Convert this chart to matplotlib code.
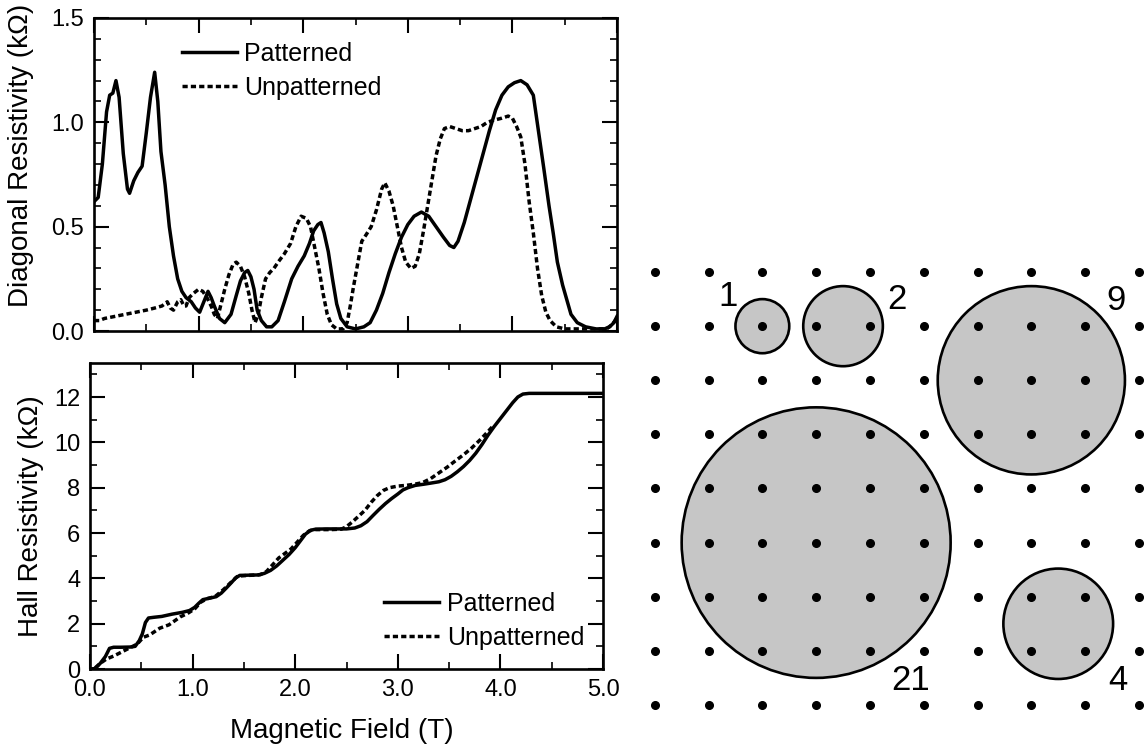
import matplotlib
matplotlib.use("Agg")
import matplotlib.pyplot as plt
from matplotlib.patches import Circle
from matplotlib.ticker import MultipleLocator
import numpy as np

plt.rcParams['font.family'] = ['Liberation Sans', 'DejaVu Sans']

# ---- diagonal resistivity (kOhm) vs field (T) ----
diag_pat_B = [0.00, 0.04, 0.08, 0.12, 0.15, 0.18, 0.21, 0.24, 0.28, 0.32, 0.34, 0.38, 0.42, 0.46,
              0.50, 0.54, 0.58, 0.61, 0.64, 0.68, 0.72, 0.76, 0.80, 0.84, 0.88, 0.93, 0.97, 1.01,
              1.05, 1.09, 1.12, 1.15, 1.20, 1.25, 1.31, 1.36, 1.40, 1.44, 1.47, 1.50, 1.53, 1.56,
              1.60, 1.65, 1.70, 1.76, 1.82, 1.89, 1.95, 2.01, 2.06, 2.10, 2.14, 2.17, 2.20, 2.24,
              2.28, 2.32, 2.36, 2.42, 2.50, 2.58, 2.64, 2.70, 2.76, 2.82, 2.88, 2.94, 3.00, 3.06,
              3.13, 3.20, 3.27, 3.34, 3.40, 3.44, 3.48, 3.54, 3.60, 3.66, 3.72, 3.78, 3.84, 3.90,
              3.96, 4.02, 4.08, 4.14, 4.20, 4.26, 4.30, 4.35, 4.39, 4.43, 4.48, 4.52, 4.56, 4.62,
              4.70, 4.80, 4.88, 4.93, 4.97, 5.00]
diag_pat = [0.62, 0.64, 0.80, 1.05, 1.13, 1.14, 1.20, 1.12, 0.85, 0.68, 0.66, 0.72, 0.76, 0.79,
            0.95, 1.12, 1.24, 1.10, 0.86, 0.70, 0.50, 0.36, 0.25, 0.19, 0.16, 0.14, 0.11, 0.09,
            0.14, 0.19, 0.16, 0.12, 0.06, 0.04, 0.08, 0.17, 0.24, 0.28, 0.29, 0.26, 0.20, 0.10,
            0.05, 0.02, 0.02, 0.05, 0.14, 0.25, 0.31, 0.36, 0.42, 0.48, 0.51, 0.52, 0.47, 0.38,
            0.25, 0.13, 0.06, 0.02, 0.01, 0.02, 0.04, 0.10, 0.18, 0.28, 0.37, 0.45, 0.51, 0.55,
            0.57, 0.55, 0.50, 0.45, 0.41, 0.40, 0.43, 0.52, 0.63, 0.74, 0.85, 0.96, 1.06, 1.13,
            1.17, 1.19, 1.20, 1.18, 1.13, 0.92, 0.78, 0.60, 0.47, 0.33, 0.22, 0.15, 0.08, 0.04,
            0.02, 0.01, 0.01, 0.02, 0.04, 0.07]

diag_unp_B = [0.00, 0.05, 0.10, 0.20, 0.30, 0.40, 0.50, 0.58, 0.65, 0.70, 0.73, 0.76, 0.80, 0.83,
              0.86, 0.88, 0.91, 0.95, 1.00, 1.04, 1.08, 1.12, 1.15, 1.18, 1.21, 1.25, 1.29, 1.33,
              1.36, 1.40, 1.44, 1.48, 1.51, 1.54, 1.57, 1.60, 1.64, 1.68, 1.72, 1.76, 1.82, 1.88,
              1.93, 1.98, 2.03, 2.07, 2.11, 2.15, 2.19, 2.23, 2.27, 2.32, 2.38, 2.42, 2.45, 2.48,
              2.52, 2.56, 2.60, 2.65, 2.70, 2.75, 2.78, 2.82, 2.86, 2.90, 2.94, 2.98, 3.03, 3.07,
              3.11, 3.15, 3.19, 3.23, 3.27, 3.31, 3.35, 3.40, 3.46, 3.52, 3.58, 3.64, 3.70, 3.76,
              3.82, 3.90, 3.96, 4.00, 4.04, 4.08, 4.12, 4.16, 4.20, 4.24, 4.28, 4.32, 4.36, 4.42,
              4.50, 4.70, 4.90, 4.95, 5.00]
diag_unp = [0.05, 0.05, 0.06, 0.07, 0.08, 0.09, 0.10, 0.11, 0.12, 0.14, 0.11, 0.10, 0.14, 0.15,
            0.12, 0.12, 0.16, 0.18, 0.20, 0.19, 0.16, 0.12, 0.08, 0.06, 0.12, 0.20, 0.27, 0.32,
            0.33, 0.31, 0.26, 0.18, 0.10, 0.04, 0.08, 0.16, 0.25, 0.28, 0.30, 0.33, 0.37, 0.42,
            0.50, 0.55, 0.54, 0.50, 0.40, 0.30, 0.18, 0.08, 0.03, 0.01, 0.01, 0.04, 0.12, 0.21,
            0.32, 0.43, 0.46, 0.50, 0.58, 0.68, 0.71, 0.67, 0.60, 0.50, 0.40, 0.33, 0.30, 0.31,
            0.37, 0.48, 0.60, 0.72, 0.84, 0.92, 0.97, 0.98, 0.97, 0.96, 0.96, 0.97, 0.98, 1.00,
            1.01, 1.02, 1.03, 1.02, 0.98, 0.93, 0.80, 0.62, 0.47, 0.30, 0.17, 0.09, 0.05, 0.02,
            0.01, 0.01, 0.01, 0.03, 0.06]

# ---- Hall resistivity (kOhm) vs field (T) ----
hall_pat_B = [0.00, 0.05, 0.10, 0.15, 0.19, 0.23, 0.30, 0.40, 0.44, 0.48, 0.51, 0.54, 0.57, 0.62,
              0.70, 0.80, 0.90, 0.97, 1.02, 1.06, 1.10, 1.16, 1.23, 1.28, 1.33, 1.38, 1.42, 1.46,
              1.55, 1.64, 1.70, 1.76, 1.82, 1.88, 1.94, 2.00, 2.05, 2.10, 2.15, 2.20, 2.30, 2.40,
              2.50, 2.58, 2.64, 2.70, 2.76, 2.82, 2.88, 2.94, 3.00, 3.05, 3.10, 3.17, 3.25, 3.32,
              3.40, 3.46, 3.52, 3.58, 3.64, 3.70, 3.76, 3.82, 3.88, 3.94, 4.00, 4.06, 4.12, 4.17,
              4.22, 4.28, 4.50, 5.00]
hall_pat = [0.00, 0.02, 0.25, 0.55, 0.91, 0.96, 0.96, 0.97, 1.00, 1.25, 1.55, 2.05, 2.25, 2.28,
            2.32, 2.42, 2.50, 2.58, 2.72, 2.90, 3.06, 3.12, 3.19, 3.35, 3.58, 3.82, 4.02, 4.13,
            4.14, 4.15, 4.22, 4.35, 4.55, 4.80, 5.05, 5.35, 5.65, 5.95, 6.12, 6.17, 6.18, 6.18,
            6.18, 6.22, 6.32, 6.50, 6.78, 7.05, 7.30, 7.52, 7.72, 7.90, 8.00, 8.10, 8.15, 8.20,
            8.26, 8.35, 8.50, 8.70, 8.93, 9.20, 9.52, 9.90, 10.32, 10.70, 11.05, 11.40, 11.75, 12.00,
            12.13, 12.16, 12.16, 12.16]

hall_unp_B = [0.05, 0.10, 0.16, 0.23, 0.30, 0.39, 0.46, 0.52, 0.58, 0.68, 0.77, 0.88, 0.95, 1.02,
              1.08, 1.14, 1.22, 1.30, 1.38, 1.44, 1.55, 1.66, 1.72, 1.78, 1.84, 1.90, 1.96, 2.02,
              2.08, 2.14, 2.20, 2.35, 2.45, 2.50, 2.56, 2.62, 2.68, 2.74, 2.80, 2.86, 2.92, 3.00,
              3.08, 3.16, 3.24, 3.32, 3.40, 3.48, 3.56, 3.64, 3.72, 3.80, 3.88, 3.92]
hall_unp = [0.05, 0.25, 0.44, 0.57, 0.73, 0.94, 1.10, 1.40, 1.50, 1.80, 1.95, 2.30, 2.45, 2.65,
            2.95, 3.10, 3.20, 3.50, 3.85, 4.10, 4.13, 4.16, 4.30, 4.60, 4.90, 5.10, 5.30, 5.60,
            5.90, 6.10, 6.15, 6.15, 6.17, 6.28, 6.50, 6.75, 7.00, 7.35, 7.65, 7.88, 8.00, 8.07,
            8.10, 8.15, 8.22, 8.40, 8.65, 8.90, 9.18, 9.45, 9.75, 10.10, 10.48, 10.68]

series_labels = ["Patterned", "Unpatterned"]

# ---- antidot lattice sketch ----
grid_cols = 10
grid_rows = 9
circle_x = [2.0, 3.5, 7.0, 3.0, 7.5]
circle_y = [1.0, 1.0, 2.0, 5.0, 6.5]
circle_r = [0.50, 0.74, 1.74, 2.50, 1.02]
circle_text = ["1", "2", "9", "21", "4"]
text_x = [1.37, 4.50, 8.58, 4.75, 8.60]
text_y = [0.46, 0.50, 0.52, 7.55, 7.55]

fig = plt.figure(figsize=(11.47, 7.49), dpi=100)
ax1 = fig.add_axes([94/1147, 1 - 331/749, 523/1147, 313/749])
ax2 = fig.add_axes([90/1147, 1 - 669/749, 513/1147, 306/749])
ax3 = fig.add_axes([644/1147, 1 - 732/749, 503/1147, 487/749])

lw = 2.5
dash = (0, (1.5, 0.9))

ax1.plot(diag_pat_B, diag_pat, color='black', lw=lw, label=series_labels[0])
ax1.plot(diag_unp_B, diag_unp, color='black', lw=lw, linestyle=dash, label=series_labels[1])
ax1.set_xlim(0, 5)
ax1.set_ylim(0, 1.5)
ax1.xaxis.set_major_locator(MultipleLocator(1.0))
ax1.xaxis.set_minor_locator(MultipleLocator(0.5))
ax1.yaxis.set_major_locator(MultipleLocator(0.5))
ax1.yaxis.set_minor_locator(MultipleLocator(0.1))
ax1.set_yticks([0, 0.5, 1.0, 1.5], ["0.0", "0.5", "1.0", "1.5"])
ax1.tick_params(labelbottom=False)
ax1.set_ylabel("Diagonal Resistivity (k\u03a9)", fontsize=20)
ax1.yaxis.set_label_coords(-0.115, 0.56)
ax1.legend(loc='upper left', bbox_to_anchor=(0.125, 0.995), frameon=False, fontsize=18,
           handlelength=2.2, handletextpad=0.3, labelspacing=0.4)

ax2.plot(hall_pat_B, hall_pat, color='black', lw=lw, label=series_labels[0])
ax2.plot(hall_unp_B, hall_unp, color='black', lw=lw, linestyle=dash, label=series_labels[1])
ax2.set_xlim(0, 5)
ax2.set_ylim(0, 13.5)
ax2.xaxis.set_major_locator(MultipleLocator(1.0))
ax2.xaxis.set_minor_locator(MultipleLocator(0.5))
ax2.yaxis.set_major_locator(MultipleLocator(2))
ax2.yaxis.set_minor_locator(MultipleLocator(1))
ax2.set_xticks([0, 1, 2, 3, 4, 5], ["0.0", "1.0", "2.0", "3.0", "4.0", "5.0"])
ax2.set_ylabel("Hall Resistivity (k\u03a9)", fontsize=20)
ax2.yaxis.set_label_coords(-0.09, 0.5)
ax2.set_xlabel("Magnetic Field (T)", fontsize=20)
ax2.xaxis.set_label_coords(0.49, -0.16)
ax2.legend(loc='lower left', bbox_to_anchor=(0.53, -0.01), frameon=False, fontsize=18,
           handlelength=2.2, handletextpad=0.3, labelspacing=0.4)

for ax in (ax1, ax2):
    for sp in ax.spines.values():
        sp.set_linewidth(1.9)
    ax.tick_params(which='both', direction='in', top=True, right=True, labelsize=17, pad=7)
    ax.tick_params(which='major', length=11, width=1.5)
    ax.tick_params(which='minor', length=5, width=1.2)

# lattice
gx, gy = np.meshgrid(np.arange(grid_cols), np.arange(grid_rows))
for cx, cy, r in zip(circle_x, circle_y, circle_r):
    ax3.add_patch(Circle((cx, cy), r, facecolor='#c6c6c6', edgecolor='black', lw=1.9, zorder=1))
ax3.plot(gx.ravel(), gy.ravel(), 'o', color='black', markersize=5.5, zorder=2)
for t, tx, ty in zip(circle_text, text_x, text_y):
    ax3.text(tx, ty, t, fontsize=25, ha='center', va='center')
ax3.set_xlim(-0.2, 9.15)
ax3.set_ylim(8.5, -0.5)
ax3.axis('off')

fig.savefig("out.png", dpi=100)
